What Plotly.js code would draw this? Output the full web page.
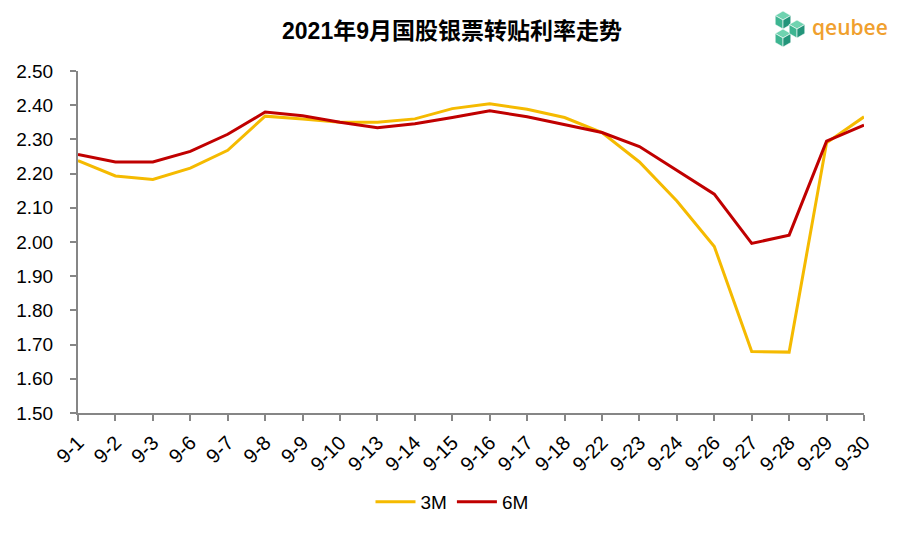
<!DOCTYPE html>
<html>
<head>
<meta charset="utf-8">
<script src="https://cdn.plot.ly/plotly-3.0.1.min.js"></script>
<style>html,body{margin:0;padding:0;background:#fff;}#chart{width:904px;height:533px;}</style>
</head>
<body>
<div id="chart"></div>
<script>
const categories = ['9-1','9-2','9-3','9-6','9-7','9-8','9-9','9-10','9-13','9-14','9-15','9-16','9-17','9-18','9-22','9-23','9-24','9-26','9-27','9-28','9-29','9-30'];
const rate3M = [2.238,2.193,2.183,2.216,2.268,2.368,2.360,2.350,2.350,2.360,2.390,2.404,2.388,2.364,2.320,2.234,2.120,1.987,1.680,1.678,2.290,2.366];
const rate6M = [2.256,2.234,2.234,2.265,2.315,2.380,2.369,2.350,2.334,2.346,2.364,2.384,2.366,2.343,2.320,2.279,2.210,2.140,1.996,2.020,2.295,2.342];
const yTicks = [1.5,1.6,1.7,1.8,1.9,2.0,2.1,2.2,2.3,2.4,2.5];

const font = 'Arial, "Liberation Sans", sans-serif';
const traces = [
  {x: categories, y: rate3M, name: '3M', type: 'scatter', mode: 'lines',
   line: {color: '#F5BA00', width: 3}},
  {x: categories, y: rate6M, name: '6M', type: 'scatter', mode: 'lines',
   line: {color: '#C00000', width: 3}}
];

// logo geometry in pixels -> paper coords (plot area 78..864 x 71..413)
const W = 904, H = 533, L = 78, R = 40, T = 71, B = 120;
const px = x => (x - L) / (W - L - R);
const py = y => (H - B - y) / (H - T - B);
const P = (x, y) => px(x).toFixed(5) + ',' + py(y).toFixed(5);
function cube(cx, cy, r) {
  const pts = [];
  for (let i = 0; i < 6; i++) {
    const a = Math.PI / 180 * (60 * i - 90);
    pts.push([cx + r * Math.cos(a), cy + r * Math.sin(a)]);
  }
  const c = [cx, cy];
  const path = arr => 'M' + arr.map(p => P(p[0], p[1])).join('L') + 'Z';
  return [
    {type: 'path', xref: 'paper', yref: 'paper', path: path([pts[0], pts[1], c, pts[5]]), fillcolor: '#6FD3B0', line: {color: '#fff', width: 0.6}},
    {type: 'path', xref: 'paper', yref: 'paper', path: path([pts[5], c, pts[3], pts[4]]), fillcolor: '#3DB591', line: {color: '#fff', width: 0.6}},
    {type: 'path', xref: 'paper', yref: 'paper', path: path([c, pts[1], pts[2], pts[3]]), fillcolor: '#23957A', line: {color: '#fff', width: 0.6}}
  ];
}
const logoShapes = [].concat(cube(783, 20, 9), cube(783, 38, 9), cube(797, 29, 9));

const layout = {
  width: W, height: H,
  margin: {l: L, r: R, t: T, b: B, autoexpand: false},
  paper_bgcolor: '#fff', plot_bgcolor: '#fff',
  title: {text: '<b>2021年9月国股银票转贴利率走势</b>', x: 0.5, xanchor: 'center', y: 1 - 31 / H, yanchor: 'middle',
          font: {family: 'Arial, "Noto Sans CJK SC", sans-serif', size: 23, color: '#000'}},
  xaxis: {type: 'category', range: [0, categories.length - 1], showgrid: false, zeroline: false, automargin: false,
          showline: true, linecolor: '#868686', linewidth: 2, ticks: 'outside', ticklen: 6, tickcolor: '#868686', tickwidth: 2,
          tickangle: -45, tickfont: {family: font, size: 20, color: '#000'}, ticklabelstandoff: 2, fixedrange: true},
  yaxis: {range: [1.5, 2.5], tickvals: yTicks, tickformat: '.2f', showgrid: false, zeroline: false, automargin: false,
          showline: true, linecolor: '#868686', linewidth: 2, ticks: 'outside', ticklen: 6, tickcolor: '#868686', tickwidth: 2,
          tickfont: {family: font, size: 19, color: '#000'}, ticklabelstandoff: 13, fixedrange: true},
  showlegend: true,
  legend: {orientation: 'h', x: 0.5, xref: 'container', xanchor: 'center', y: 1 - 502 / H, yref: 'container', yanchor: 'middle',
           font: {family: font, size: 19, color: '#000'}, itemwidth: 40, tracegroupgap: 0},
  shapes: logoShapes,
  annotations: [
    {xref: 'paper', yref: 'paper', x: px(810), y: py(27), xanchor: 'left', yanchor: 'middle', showarrow: false,
     text: 'qeubee', font: {family: '"Open Sans", Arial, sans-serif', size: 21, color: '#F0A02E', weight: 600}}
  ]
};

Plotly.newPlot('chart', traces, layout, {displayModeBar: false, staticPlot: true});
</script>
</body>
</html>
